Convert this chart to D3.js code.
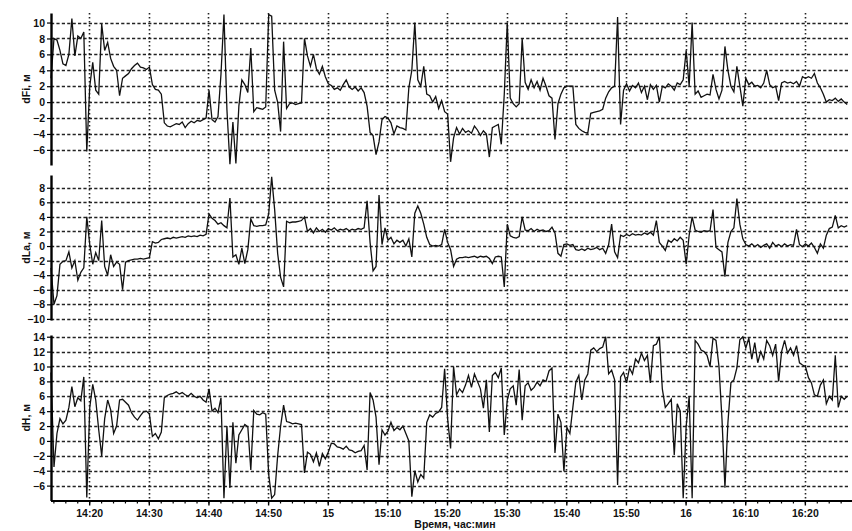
<!DOCTYPE html>
<html>
<head>
<meta charset="utf-8">
<script src="https://cdn.jsdelivr.net/npm/d3@7"></script>
<style>
  html, body { margin: 0; padding: 0; background: #fff; }
  svg { display: block; }
  text { font-family: "Liberation Sans", Arial, sans-serif; font-weight: bold; fill: #111; }
</style>
</head>
<body>
<svg id="chart" width="852" height="531"></svg>
<script>
// Sampling: one reading every half minute, minutes counted from 14:00
const startMinute = 13.6;
const stepMinute = 0.5;
const endMinute = 147.4;

// Time ticks (minutes after 14:00)
const majorTicks = [20, 30, 40, 50, 60, 70, 80, 90, 100, 110, 120, 130, 140];
const minorTicks = d3.range(14, 148, 2);

// Y tick labels per panel
const dFiTicks = [10, 8, 6, 4, 2, 0, -2, -4, -6];
const dLaTicks = [8, 6, 4, 2, 0, -2, -4, -6, -8, -10];
const dHTicks = [14, 12, 10, 8, 6, 4, 2, 0, -2, -4, -6];

// Latitude deviation, m
const dFi = [
  3.0, 8.0, 7.8, 6.5, 4.8, 4.6, 6.0, 10.5, 5.8, 8.3,
  8.0, 8.8, -6.2, 2.0, 5.0, 1.5, 1.0, 9.8, 6.5, 7.5,
  5.5, 4.5, 4.0, 0.8, 3.0, 3.3, 3.6, 4.2, 4.6, 4.9,
  4.4, 4.3, 4.1, 4.4, 2.2, 1.6, 1.5, 1.0, -2.6, -3.0,
  -3.1, -2.9, -2.7, -2.8, -2.5, -3.2, -2.7, -2.4, -2.6, -2.3,
  -2.4, -2.2, -2.0, 1.5, -2.2, -2.5, -1.8, 3.5, 11.0, -1.0,
  -7.8, -2.5, -7.7, -0.5, 2.8, 2.2, 1.2, 6.8, -1.2, -0.7,
  -0.8, -0.9, -0.6, 11.0, 10.8, 1.5, 0.0, -3.7, 7.6, -0.8,
  -0.2, -0.1, -0.3, -0.2, -0.1, 8.0, 5.8, 4.5, 6.0, 4.2,
  3.5, 4.5, 3.2, 2.3, 2.1, 1.6, 1.8, 1.5, 2.2, 2.8,
  1.9, 1.6, 1.9, 1.4, 1.8, 1.2, -0.5, -3.8, -4.2, -6.6,
  -5.0, -2.2, -1.8, -2.0, -2.6, -4.0, -3.0, -3.2, -3.3, -3.5,
  1.8, 4.0, 10.0, 2.8, 2.0, 4.5, 1.0, 0.8, 0.0, 0.7,
  -0.8, 0.2, -1.2, -1.5, -7.5, -4.5, -3.2, -4.0, -3.3, -3.8,
  -3.6, -3.9, -3.0, -3.5, -4.2, -3.6, -4.0, -6.9, -3.2, -3.0,
  -2.8, -5.3, 1.0, 10.0, 0.5, -0.2, -0.6, -0.2, 8.0, 2.5,
  1.6, 2.8, 1.8, 2.6, 1.5, 3.0, 2.0, 0.8, 0.5, -4.7,
  -0.2, 1.0, 1.8, 2.0, 2.0, 2.0, -2.8, -3.3, -3.6, -3.8,
  -3.9, -1.4, -1.3, -1.2, -1.1, -0.9, 0.5, 1.3, 1.8, 2.0,
  10.7, -2.8, 1.5, 2.3, 1.4, 2.1, 1.8, 2.4, 1.2, 2.0,
  0.3, 2.2, 1.6, 2.1, 0.0, 2.0, 1.8, 2.3, 2.0, 1.5,
  2.4, 2.2, 2.8, 6.5, 2.0, 10.0, 1.0, 1.4, 0.6, 0.8,
  1.0, 0.9, 3.5, 1.6, 0.4, 1.5, 7.0, 4.0, 2.0, 1.3,
  4.5, 2.0, -0.5, 3.0, 2.2, 2.5, 2.0, 2.1, 1.8, 2.4,
  4.0, 2.2, 1.8, 2.0, 0.2, 2.4, 2.6, 2.4, 2.5, 2.3,
  2.6, 2.0, 3.2, 3.0, 3.2, 3.0, 3.6, 2.4, 1.8, 1.0,
  0.0, 0.3, 0.2, 0.5, 0.1, 0.4, 0.0, -0.3
];

// Longitude deviation, m
const dLa = [
  -3.0, -8.0, -6.8, -2.5, -2.1, -2.0, -0.8, -3.0, -2.0, -4.7,
  -3.6, -3.0, 4.0, 0.2, -2.5, -0.9, -2.0, 3.5, -2.8, -4.0,
  -1.2, -2.8, -2.2, -2.5, -6.0, -2.2, -2.0, -1.9, -1.8, -1.8,
  -1.7, -1.8, -1.7, -1.6, 0.6, 0.4, 0.5, 0.9, 1.0, 1.1,
  1.0, 1.2, 1.1, 1.2, 1.3, 1.2, 1.4, 1.3, 1.4, 1.3,
  1.5, 1.4, 1.6, 4.4, 3.8, 3.5, 3.0, 3.2, 2.8, 2.5,
  6.6, -1.5, -1.2, -2.5, -0.3, -2.4, -0.5, 3.7, 2.8, 2.7,
  2.8, 2.8, 2.9, 4.4, 9.5, 5.0, -1.0, -4.3, -5.6, 3.4,
  3.2, 3.3, 3.3, 3.4, 3.5, 4.0, 2.0, 2.4, 1.8, 2.5,
  2.0, 2.3, 1.9, 2.4, 2.2, 2.5, 2.1, 2.3, 2.2, 2.4,
  2.1, 2.3, 2.2, 2.4, 2.3, 2.5, 6.2, 0.5, -3.4, -2.8,
  7.0, 0.2, 2.5, 0.8, 1.2, 0.3, 0.8, 0.5, 0.8, 0.0,
  1.0, -1.5, 4.5, 5.5, 4.5, 3.0, 1.2, 0.2, 0.0, 0.1,
  0.0, 0.2, 2.3, 0.5, -0.5, -2.8, -1.8, -1.6, -1.6, -1.5,
  -1.6, -1.5, -1.4, -1.6, -1.4, -1.5, -1.4, -1.7, -2.4, -1.5,
  -1.4, -1.5, -5.6, 3.0, 1.4, 1.2, 1.1, 1.3, 4.0, 2.2,
  2.1, 2.4, 2.0, 2.3, 2.1, 2.2, 2.0, 2.1, 2.6, 1.8,
  -1.0, -1.4, 0.2, 0.3, 0.1, 0.2, -0.5, -0.6, -0.4, -0.6,
  -0.3, -0.5, -0.4, -0.2, -0.5, -0.3, -1.0, 0.2, 3.0, -0.8,
  -1.6, 1.5, 1.3, 1.6, 1.4, 1.7, 1.5, 1.6, 1.5, 1.8,
  1.6, 1.9, 1.5, 3.5, 0.5, 0.0, -0.6, 0.8, 0.5, 1.0,
  0.7, 1.2, 0.8, -2.5, 1.5, 4.0, 2.2, 2.0, 1.9, 2.1,
  2.0, 2.1, 5.0, -0.2, -0.5, -0.8, -4.2, 0.5, 2.0, 2.5,
  6.5, 3.0, 1.0, 0.2, 0.0, 0.3, -0.1, 0.2, -0.2, 0.1,
  0.3, -0.3, 0.5, 0.0, 0.2, -0.1, 0.3, 0.0, 0.2, 0.1,
  2.3, 0.2, -0.1, 0.3, 0.0, 0.4, -0.2, -1.0, 0.3, -0.3,
  1.5, 2.4, 2.6, 4.2, 2.5, 2.8, 2.6, 2.8
];

// Height deviation, m
const dH = [
  9.2, -3.5, 1.0, 3.0, 2.3, 2.8, 4.5, 7.3, 4.6, 5.8,
  5.4, 8.6, -7.6, 4.5, 7.6, 5.5, 1.5, -2.0, 3.0, 5.5,
  4.2, 1.0, 2.0, 5.5, 5.6, 5.2, 4.8, 3.8, 3.2, 2.8,
  3.4, 3.9, 4.0, 3.6, 0.6, 1.0, 0.3, 1.2, 5.8, 6.1,
  6.3, 6.4, 6.6, 6.3, 6.5, 6.2, 6.0, 6.4, 6.0, 5.8,
  6.0, 5.5, 5.2, 7.0, 4.0, 4.4, 3.8, 5.8, -7.7, 2.0,
  -6.3, 2.5, -3.0, 0.8, 1.5, 2.2, 1.9, -3.9, 4.1, 3.6,
  3.5, 3.8, 3.6, -4.5, -7.7, -7.2, -2.0, 2.0, 4.8, 2.6,
  2.5, 2.3, 2.4, 2.3, 2.2, -4.3, -1.5, -1.8, -2.8, -1.6,
  -3.4, -1.7, -2.4, -1.5, -0.3, -0.4, -0.8, -0.9, -1.1, -0.7,
  -1.2, -1.3, -1.6, -1.4, -1.3, -0.6, -3.9, 6.5, 5.5, 3.2,
  -3.2, 1.5, 0.8, 1.3, 2.5, 1.4, 1.8, 1.5, 2.0, 1.0,
  0.0, -7.5, -4.0, -5.5, -4.5, -5.0, 2.5, 3.5, 3.2, 3.7,
  3.9, 4.5, 9.7, 3.0, -1.0, 10.0, 6.2, 7.0, 6.5, 7.5,
  8.8, 7.2, 9.0, 8.0, 7.0, 4.4, 8.2, 1.2, 8.8, 9.2,
  8.5, 9.8, 0.8, 5.5, 7.0, 7.4, 4.8, 9.6, 2.8, 7.4,
  7.8, 6.8, 7.2, 7.9, 7.4, 8.2, 8.0, 9.4, 9.8, -1.6,
  3.6, 2.5, -4.1, 1.8, 1.0, 4.5, 7.9, 8.8, 5.5, 8.2,
  9.0, 12.2, 12.5, 12.0, 12.4, 12.6, 14.0, 9.0, 9.5, 8.2,
  -5.9, 8.6, 9.2, 7.8, 9.8, 9.0, 11.0, 10.5, 11.8, 10.8,
  11.5, 7.8, 12.8, 13.0, 14.0, 7.0, 4.5, 5.0, 5.6, -1.9,
  5.0, 4.0, -7.7, 2.0, 6.0, -7.7, 13.5, 13.0, 12.2, 12.0,
  11.5, 10.0, 13.8, 13.5, 10.0, 3.0, -6.3, 2.5, 7.8, 8.2,
  9.8, 13.6, 14.0, 12.5, 13.8, 11.0, 13.2, 10.5, 12.0, 11.0,
  13.5, 12.8, 11.5, 13.0, 8.0, 12.0, 13.5, 11.8, 12.5, 11.5,
  12.8, 10.5, 10.2, 10.0, 8.5, 7.8, 6.2, 6.0, 7.5, 8.2,
  5.0, 6.0, 5.5, 11.5, 4.5, 6.0, 5.6, 6.0
];

const svg = d3.select("#chart");
const left = 51, right = 849;
const axisBottomY = 500.5;
const plotTop = 13;

const x = d3.scaleLinear().domain([startMinute, endMinute]).range([left, right]);

const panels = [
  { name: "dFi, м", values: dFi, ticks: dFiTicks, domain: [-7.9, 11.2], top: 13, bottom: 165 },
  { name: "dLa, м", values: dLa, ticks: dLaTicks, domain: [-10.15, 9.75], top: 175, bottom: 320 },
  { name: "dH, м",  values: dH,  ticks: dHTicks,  domain: [-8.0, 14.23], top: 335, bottom: axisBottomY }
];

// Vertical dotted grid spanning all three panels
svg.append("g")
  .selectAll("line")
  .data(majorTicks)
  .join("line")
  .attr("x1", d => Math.round(x(d)) + 0.5)
  .attr("x2", d => Math.round(x(d)) + 0.5)
  .attr("y1", plotTop)
  .attr("y2", axisBottomY)
  .attr("stroke", "#222")
  .attr("stroke-width", 1.6)
  .attr("stroke-dasharray", "1.6,2.4");

panels.forEach(p => {
  const y = d3.scaleLinear().domain(p.domain).range([p.bottom, p.top]);
  const g = svg.append("g");

  // Horizontal dashed grid
  g.append("g")
    .selectAll("line")
    .data(p.ticks)
    .join("line")
    .attr("x1", left)
    .attr("x2", right)
    .attr("y1", d => Math.round(y(d)) + 0.5)
    .attr("y2", d => Math.round(y(d)) + 0.5)
    .attr("stroke", "#222")
    .attr("stroke-width", 1.3)
    .attr("stroke-dasharray", "3.2,2.2");

  // Series line
  const line = d3.line()
    .x((d, i) => x(startMinute + i * stepMinute))
    .y(d => y(d));
  g.append("path")
    .datum(p.values)
    .attr("d", line)
    .attr("fill", "none")
    .attr("stroke", "#111")
    .attr("stroke-width", 1.3)
    .attr("stroke-linejoin", "miter");

  // Left axis
  const ax = g.append("g")
    .attr("transform", `translate(${left},0)`)
    .call(d3.axisLeft(y).tickValues(p.ticks).tickSize(4).tickPadding(2).tickSizeOuter(0));
  ax.select(".domain").attr("stroke", "#000").attr("stroke-width", 2.4);
  ax.selectAll(".tick line").attr("stroke", "#000").attr("stroke-width", 1.2);
  ax.selectAll(".tick text")
    .style("font-family", "'Liberation Sans', Arial, sans-serif")
    .style("font-weight", "bold")
    .style("font-size", "10.5px")
    .attr("fill", "#111")
    .attr("dy", "0.34em");

  // Axis title
  g.append("text")
    .attr("transform", `translate(26,${(p.top + p.bottom) / 2}) rotate(-90)`)
    .attr("text-anchor", "middle")
    .attr("dy", "0.35em")
    .style("font-size", "10.5px")
    .text(p.name);
});

// Time axis
const xFormat = m => {
  const h = 14 + Math.floor(m / 60);
  const mm = m % 60;
  return mm === 0 ? String(h) : `${h}:${String(mm).padStart(2, "0")}`;
};

const minorAxis = svg.append("g")
  .attr("transform", `translate(0,${axisBottomY})`)
  .call(d3.axisBottom(x).tickValues(minorTicks).tickSize(3).tickFormat(""));
minorAxis.select(".domain").remove();
minorAxis.selectAll(".tick line").attr("stroke", "#000").attr("stroke-width", 1.2);

const xAxis = svg.append("g")
  .attr("transform", `translate(0,${axisBottomY})`)
  .call(d3.axisBottom(x).tickValues(majorTicks).tickFormat(xFormat).tickSize(5).tickPadding(4).tickSizeOuter(0));
xAxis.select(".domain").attr("stroke", "#000").attr("stroke-width", 2).attr("d", `M${left},0.5H852`);
xAxis.selectAll(".tick line").attr("stroke", "#000").attr("stroke-width", 1.4);
xAxis.selectAll(".tick text")
  .style("font-family", "'Liberation Sans', Arial, sans-serif")
  .style("font-weight", "bold")
  .style("font-size", "10.5px")
  .attr("fill", "#111");

svg.append("text")
  .attr("x", 455)
  .attr("y", 528)
  .attr("text-anchor", "middle")
  .style("font-size", "10.5px")
  .text("Время, час:мин");
</script>
</body>
</html>
